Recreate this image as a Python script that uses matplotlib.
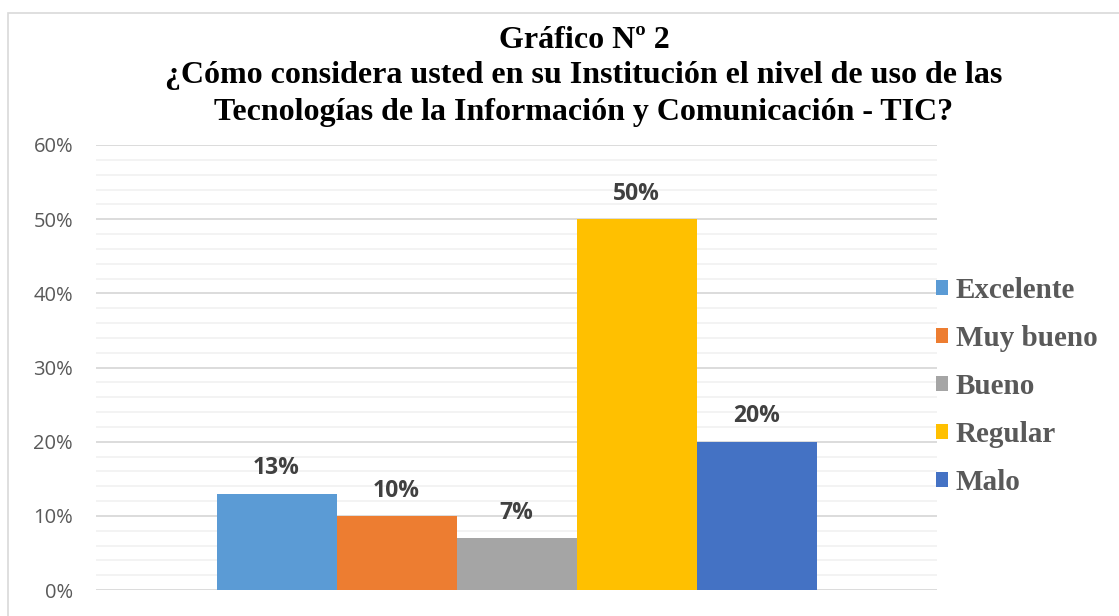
import matplotlib
matplotlib.use("Agg")
import matplotlib.pyplot as plt
from matplotlib.patches import Rectangle
from matplotlib.ticker import MultipleLocator, PercentFormatter

categories = ["Excelente", "Muy bueno", "Bueno", "Regular", "Malo"]
values = [13, 10, 7, 50, 20]
labels = ["13%", "10%", "7%", "50%", "20%"]
colors = ["#5B9BD5", "#ED7D31", "#A5A5A5", "#FFC000", "#4472C4"]
yticks = [0, 10, 20, 30, 40, 50, 60]

W, H = 1119, 616
fig = plt.figure(figsize=(W / 100, H / 100), dpi=100)
fig.patch.set_facecolor("white")

# chart border
fig.add_artist(Rectangle((8 / W, -0.01), 1.02, 1 - 13 / H + 0.01, transform=fig.transFigure,
                         fill=False, edgecolor="#D9D9D9", lw=1.2))

left, right, top, bottom = 96, 937, 145, 590
ax = fig.add_axes([left / W, 1 - bottom / H, (right - left) / W, (bottom - top) / H])

bw = 120 / (right - left)
n = len(values)
for i, (c, v, lab, col) in enumerate(zip(categories, values, labels, colors)):
    x = (i - (n - 1) / 2) * bw
    ax.bar(x, v, width=bw, color=col, label=c, zorder=3)
    ax.text(x, v + 3.4, lab, ha="center", va="center", fontsize=16.5, fontweight="bold",
            color="#404040", family="Open Sans")

ax.set_xlim(-0.5, 0.5)
ax.set_ylim(0, 60)
ax.yaxis.set_major_locator(MultipleLocator(10))
ax.yaxis.set_minor_locator(MultipleLocator(2))
ax.yaxis.set_major_formatter(PercentFormatter(decimals=0))
ax.set_yticks(yticks)
ax.grid(axis="y", which="major", color="#D9D9D9", lw=1.3, zorder=0)
ax.grid(axis="y", which="minor", color="#F2F2F2", lw=1.3, zorder=0)
ax.tick_params(axis="y", which="both", length=0, pad=16.5, labelsize=14.5, labelcolor="#595959")
for lab in ax.get_yticklabels():
    lab.set_family("Open Sans")
ax.set_xticks([])
for s in ax.spines.values():
    s.set_visible(False)

leg = ax.legend(loc="center left", bbox_to_anchor=(0.999, 0.458), frameon=False,
                prop={"family": "Liberation Serif", "weight": "bold", "size": 21},
                handlelength=0.42, handleheight=0.42, handletextpad=0.25, labelspacing=0.72,
                borderaxespad=0, borderpad=0)
for t in leg.get_texts():
    t.set_color("#595959")

title_kw = dict(ha="center", va="center", family="Liberation Serif", fontweight="bold",
                fontsize=23, color="black")
fig.text(584 / W, 1 - 40 / H, "Gráfico Nº 2", **title_kw)
fig.text(584 / W, 1 - 76 / H, "¿Cómo considera usted en su Institución el nivel de uso de las", **title_kw)
fig.text(584 / W, 1 - 112 / H, "Tecnologías de la Información y Comunicación - TIC?", **title_kw)

fig.savefig("out.png", dpi=100, facecolor="white")
